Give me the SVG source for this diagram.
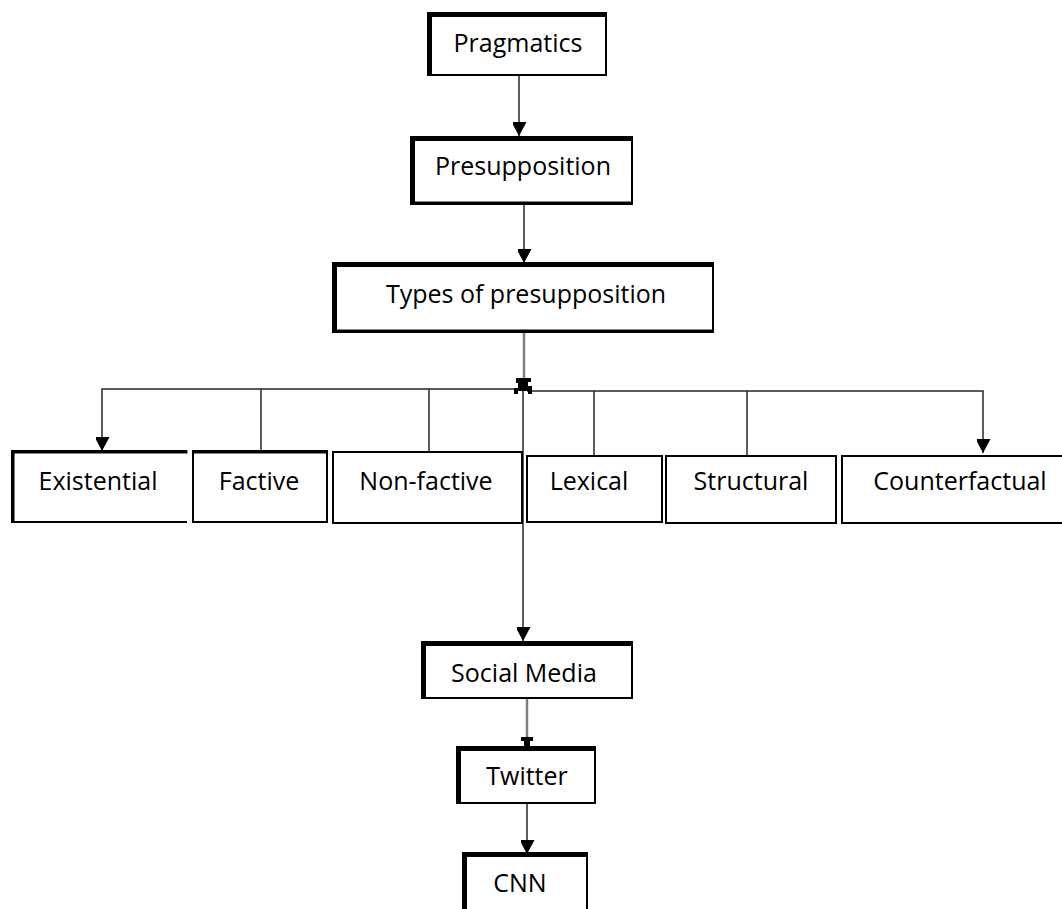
<svg xmlns="http://www.w3.org/2000/svg" width="1062" height="909" viewBox="0 0 1062 909">
<style>
.box{fill:#fff;stroke:#000;stroke-width:2}
.hv{fill:none;stroke:#000;stroke-width:4;stroke-linecap:square}
.lbl{font-family:"Open Sans","Noto Sans",sans-serif;font-size:25px;fill:#000;text-anchor:middle}
.c{fill:none;stroke:#262626;stroke-width:1.5}
.g{fill:none;stroke:#808080;stroke-width:2.5}
</style>
<defs>
<marker id="ah" markerUnits="userSpaceOnUse" markerWidth="16" markerHeight="14" refX="14" refY="7.5" orient="auto">
<path d="M0,0 L14,7.5 L0,15 Z" fill="#000"/>
</marker>
</defs>
<rect width="1062" height="909" fill="#fff"/>
<g id="connectors">
<path class="c" d="M519,75 V136" marker-end="url(#ah)"/>
<path class="c" d="M524,204 V263" marker-end="url(#ah)"/>
<path class="g" d="M524,332 V386"/>
<path class="c" d="M523,390 V641" marker-end="url(#ah)"/>
<path class="c" d="M520,389 H102 V451" marker-end="url(#ah)"/>
<path class="c" d="M527,391 H983 V453" marker-end="url(#ah)"/>
<path class="c" d="M261,389 V451"/>
<path class="c" d="M429,389 V452"/>
<path class="c" d="M594,391 V456"/>
<path class="c" d="M747,391 V456"/>
<path d="M516,378 H531 V382 H528 V386 H532 V394 H528 V391 H518 V394 H514 V388 H518 V383 H516 Z" fill="#000"/>
<path class="g" d="M527,698 V740"/>
<path d="M521,737 H533 V741 H530 V746 H524 V741 H521 Z" fill="#000"/>
<path class="c" d="M527,803 V854" marker-end="url(#ah)"/>
</g>
<g id="pragmatics">
<rect class="box" x="428" y="13" width="178" height="62"/>
<path class="hv" d="M430,74 V15 H605"/>
<text class="lbl" x="518" y="52">Pragmatics</text>
</g>
<g id="presupposition">
<rect class="box" x="411" y="137" width="221" height="67"/>
<path class="hv" d="M413,203 V139 H631"/>
<path class="hv" d="M413,203 H631" style="stroke-width:3"/>
<text class="lbl" x="523" y="175">Presupposition</text>
</g>
<g id="types">
<rect class="box" x="333" y="263" width="380" height="69"/>
<path class="hv" d="M335,331 V265 H712"/>
<path class="hv" d="M335,331 H712" style="stroke-width:3"/>
<text class="lbl" x="526" y="303">Types of presupposition</text>
</g>
<g id="existential">
<path class="box" d="M187,451 H12 V522 H187"/>
<path class="hv" d="M13,521 V452 H186" style="stroke-width:3"/>
<text class="lbl" x="98" y="490">Existential</text>
</g>
<g id="factive">
<rect class="box" x="193" y="451" width="134" height="71"/>
<path class="hv" d="M194,452 H326" style="stroke-width:3"/>
<text class="lbl" x="259" y="490">Factive</text>
</g>
<g id="nonfactive">
<rect class="box" x="333" y="452" width="189" height="71"/>
<text class="lbl" x="426" y="490">Non-factive</text>
</g>
<g id="lexical">
<rect class="box" x="527" y="456" width="135" height="66"/>
<text class="lbl" x="589" y="490">Lexical</text>
</g>
<g id="structural">
<rect class="box" x="666" y="456" width="170" height="67"/>
<text class="lbl" x="751" y="490">Structural</text>
</g>
<g id="counterfactual">
<rect class="box" x="842" y="456" width="240" height="67"/>
<text class="lbl" x="960" y="490">Counterfactual</text>
</g>
<g id="socialmedia">
<rect class="box" x="422" y="642" width="210" height="56"/>
<path class="hv" d="M424,697 V644 H631"/>
<text class="lbl" x="524" y="682">Social Media</text>
</g>
<g id="twitter">
<rect class="box" x="457" y="747" width="138" height="56"/>
<path class="hv" d="M459,802 V749 H594"/>
<text class="lbl" x="527" y="785">Twitter</text>
</g>
<g id="cnn">
<rect class="box" x="463" y="853" width="124" height="70"/>
<path class="hv" d="M465,909 V855 H586"/>
<text class="lbl" x="520" y="892">CNN</text>
</g>
</svg>
